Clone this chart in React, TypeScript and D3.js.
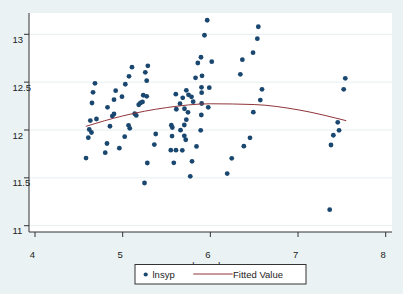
import React from 'react';
import * as d3 from 'd3';

// scatter data
const lnvendor = [
	4.582, 4.608, 4.619, 4.631, 4.644, 4.650, 4.662, 4.684, 4.701, 4.801,
	4.821, 4.827, 4.855, 4.882, 4.901, 4.901, 4.920, 4.962, 4.992, 5.023,
	5.030, 5.067, 5.081, 5.072, 5.106, 5.137, 5.155, 5.183, 5.203, 5.226,
	5.235, 5.274, 5.258, 5.287, 5.274, 5.249, 5.281, 5.361, 5.377, 5.549,
	5.608, 5.680, 5.583, 5.555, 5.566, 5.563, 5.606, 5.612, 5.654, 5.660,
	5.685, 5.705, 5.703, 5.703, 5.719, 5.726, 5.726, 5.751, 5.785, 5.804,
	5.745, 5.771, 5.791, 5.842, 5.831, 5.857, 5.893, 5.905, 5.933, 5.964,
	6.016, 5.899, 5.988, 5.901, 5.901, 5.976, 5.897, 5.890, 6.192, 6.244,
	6.382, 6.452, 6.490, 6.570, 6.589, 6.342, 6.365, 6.487, 6.536, 6.547,
	7.361, 7.376, 7.403, 7.468, 7.453, 7.521, 7.539
];
const lnsyp = [
	11.707, 11.920, 12.005, 12.099, 11.974, 12.282, 12.394, 12.488, 12.115, 11.763,
	11.859, 12.237, 12.039, 12.146, 12.167, 12.317, 12.411, 11.810, 12.348, 11.930,
	12.478, 12.049, 12.018, 12.561, 12.656, 12.170, 12.152, 12.264, 12.282, 12.293,
	12.363, 12.352, 12.603, 12.671, 12.515, 11.446, 11.655, 11.848, 11.958, 11.789,
	11.789, 11.788, 11.657, 12.050, 12.026, 11.937, 12.374, 12.217, 12.275, 11.998,
	12.336, 12.222, 12.052, 11.939, 11.898, 12.415, 12.108, 12.368, 12.347, 12.296,
	12.185, 11.516, 11.673, 11.828, 12.545, 12.700, 12.760, 12.566, 12.990, 13.147,
	12.714, 12.446, 12.442, 12.390, 12.277, 12.237, 12.157, 11.997, 11.545, 11.704,
	11.831, 11.918, 12.186, 12.313, 12.425, 12.582, 12.735, 12.808, 12.954, 13.079,
	11.167, 11.843, 11.945, 11.997, 12.080, 12.425, 12.540
];

// fitted curve, read at a few x positions
const fitX = [4.58, 5.0, 5.5, 6.0, 6.5, 7.0, 7.55];
const fitY = [12.038, 12.147, 12.234, 12.274, 12.266, 12.211, 12.097];

const xTicks = [4, 5, 6, 7, 8];
const yTicks = [11, 11.5, 12, 12.5, 13];

const W = 403;
const H = 294;

const App = () => {
	const x = d3.scaleLinear().domain([4, 8]).range([35, 385.7]);
	const y = d3.scaleLinear().domain([11, 13]).range([225.7, 34.3]);

	const plot = { left: 29, right: 392, top: 13, bottom: 232 };

	const line = d3.line()
		.x(d => x(d[0]))
		.y(d => y(d[1]))
		.curve(d3.curveMonotoneX);
	const fitted = line(fitX.map((v, i) => [v, fitY[i]]));

	const font = { fontFamily: '"Liberation Sans", Arial, sans-serif', fontSize: '9.5px' };

	return (
		<div style={{ position: 'fixed', left: 0, top: 0 }}>
			<svg width={W} height={H} style={{ display: 'block' }}>
				<rect x={0} y={0} width={W} height={H} fill='#EAF2F3' />
				<rect x={plot.left} y={plot.top} width={plot.right - plot.left} height={plot.bottom - plot.top} fill='white' />

				{/* gridlines */}
				{yTicks.map(t =>
					<line key={'g' + t} x1={plot.left} x2={plot.right} y1={y(t)} y2={y(t)} stroke='#E6EEF0' strokeWidth={1} />
				)}

				{/* axes */}
				<line x1={plot.left} x2={plot.left} y1={plot.top} y2={plot.bottom} stroke='#333' strokeWidth={1} />
				<line x1={plot.left} x2={plot.right} y1={plot.bottom} y2={plot.bottom} stroke='#333' strokeWidth={1} />

				{yTicks.map(t =>
					<g key={'y' + t}>
						<line x1={plot.left - 5} x2={plot.left} y1={y(t)} y2={y(t)} stroke='#333' />
						<text x={12.5} y={y(t) + 8.5} style={font} fill='#222'>{t}</text>
					</g>
				)}
				{xTicks.map(t =>
					<g key={'x' + t}>
						<line x1={x(t)} x2={x(t)} y1={plot.bottom} y2={plot.bottom + 5} stroke='#333' />
						<text x={x(t) - 2.5} y={257.5} textAnchor='middle' style={font} fill='#222'>{t}</text>
					</g>
				)}

				{/* points */}
				{lnvendor.map((v, i) =>
					<circle key={'p' + i} cx={x(v)} cy={y(lnsyp[i])} r={2.4} fill='#1A476F' />
				)}

				<path d={fitted} fill='none' stroke='#90353B' strokeWidth={1} />

				{/* axis title, mostly hidden under the legend */}
				<text x={(plot.left + plot.right) / 2} y={269} textAnchor='middle' style={font} fill='#222'>lnvendor</text>

				{/* legend */}
				<g>
					<rect x={135} y={264.5} width={171} height={19.5} fill='white' stroke='#333' strokeWidth={1} />
					<circle cx={145.7} cy={274.5} r={2.1} fill='#1A476F' />
					<text x={152.5} y={278} style={font} fill='#222'>lnsyp</text>
					<line x1={193.3} x2={232.7} y1={274} y2={274} stroke='#90353B' strokeWidth={1} />
					<text x={233} y={278} style={font} fill='#222'>Fitted Value</text>
				</g>
			</svg>
		</div>
	);
};

export default App;
